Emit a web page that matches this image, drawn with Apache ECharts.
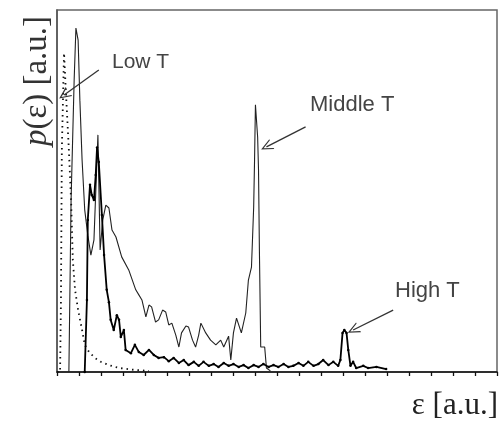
<!DOCTYPE html>
<html>
<head>
<meta charset="utf-8">
<script src="https://cdn.jsdelivr.net/npm/echarts@6/dist/echarts.min.js"></script>
<style>
  html, body { margin: 0; padding: 0; background: #fff; }
  #chart { width: 504px; height: 425px; }
</style>
</head>
<body>
<div id="chart"></div>
<script>
// Energy distributions p(ε) at three temperatures, as [ε, p] pairs in arbitrary units.
var lowT = [
  [0, 0], [0.7, 0], [0.9, 19.9], [1.1, 61.3], [1.6, 88.1], [2.0, 77.9], [2.7, 61.3],
  [3.2, 47.5], [3.6, 30.9], [4.1, 22.7], [4.8, 17.1], [5.7, 11.6], [6.3, 7.5],
  [7.3, 5.5], [8.6, 3.9], [10.0, 2.8], [11.8, 1.9], [14.1, 1.1], [17.5, 0.6], [20.9, 0.3]
];

var middleT = [
  [2.7, 0], [3.2, 47.5], [3.9, 80.7], [4.3, 95.0], [4.8, 91.7], [5.2, 75.1], [5.7, 58.6],
  [6.3, 44.8], [7.0, 37.8], [7.7, 32.3], [8.4, 36.5], [9.3, 65.5], [9.8, 33.7],
  [10.4, 42.0], [11.1, 46.1], [11.8, 45.3], [12.5, 39.2], [13.4, 37.3], [14.7, 31.8],
  [16.3, 28.2], [17.9, 22.7], [18.6, 21.3], [19.3, 19.9], [20.2, 15.2], [20.9, 18.5],
  [21.5, 18.0], [22.4, 13.8], [23.1, 14.4], [24.0, 17.1], [24.7, 16.6], [25.4, 13.0],
  [26.1, 13.5], [27.0, 10.2], [27.7, 6.9], [28.3, 10.8], [29.3, 12.7], [29.9, 12.4],
  [30.8, 8.8], [31.5, 6.9], [32.2, 10.2], [32.7, 13.5], [33.8, 10.8], [34.9, 8.8],
  [36.1, 7.5], [37.2, 8.8], [37.9, 6.9], [39.0, 9.9], [39.5, 3.3], [40.1, 10.8],
  [40.8, 14.9], [41.9, 10.8], [42.9, 16.3], [43.5, 25.4], [44.2, 29.0], [44.7, 45.6],
  [44.9, 58.6], [45.1, 73.8], [45.6, 64.9], [45.8, 55.8], [46.0, 33.7], [46.3, 6.9],
  [47.2, 6.9], [47.6, 1.1], [48.5, 0.3]
];

var highT = [
  [6.3, 0], [6.8, 19.9], [7.0, 42.0], [7.5, 51.7], [7.9, 48.9], [8.4, 47.5], [8.8, 54.4],
  [9.1, 62.0], [9.5, 58.0], [10.2, 43.4], [10.7, 32.3], [11.3, 22.7], [11.8, 19.3],
  [12.2, 14.4], [12.9, 11.6], [13.6, 15.7], [14.1, 14.4], [14.5, 9.7], [15.2, 11.6],
  [15.6, 6.1], [16.8, 5.2], [17.7, 7.5], [18.6, 5.5], [19.7, 4.7], [20.9, 6.1],
  [22.0, 4.7], [23.1, 3.9], [24.3, 4.1], [25.4, 3.0], [26.5, 3.9], [27.7, 2.5],
  [28.8, 3.3], [29.9, 1.9], [31.1, 2.8], [32.2, 1.7], [33.3, 2.8], [34.5, 1.7],
  [35.6, 2.2], [36.7, 1.4], [37.9, 2.5], [39.0, 1.7], [40.1, 2.2], [41.3, 1.4],
  [42.4, 1.9], [43.5, 1.1], [44.7, 1.9], [45.8, 1.4], [46.9, 2.2], [48.1, 1.4],
  [49.2, 1.9], [50.3, 1.4], [51.5, 2.2], [52.6, 1.4], [53.7, 1.7], [54.9, 2.5],
  [56.0, 1.7], [57.1, 2.8], [58.3, 1.7], [59.4, 2.2], [60.5, 3.3], [61.7, 1.9],
  [62.8, 2.8], [63.9, 1.7], [64.4, 3.3], [64.9, 10.8], [65.3, 11.6], [65.8, 10.8],
  [66.2, 6.1], [66.7, 1.7], [67.3, 2.8], [68.0, 1.1], [69.6, 1.7], [70.7, 1.1],
  [72.6, 1.4], [74.8, 0.8]
];

// Annotation arrows: [tail, head] in data units, with their captions.
var arrowLow = [[9.5, 83.4], [1.6, 76.5]];
var arrowMiddle = [[56.5, 67.7], [47.6, 62.2]];
var arrowHigh = [[76.4, 17.1], [67.3, 11.6]];
var captions = ['Low T', 'Middle T', 'High T'];

// Open "V" arrow head
var vHead = 'path://M0,0 L6,11 L4.6,11 L0,2.6 L-4.6,11 L-6,11 Z';

function arrow(pair) {
  return [
    { coord: pair[0], symbol: 'none' },
    { coord: pair[1], symbol: vHead, symbolSize: [11, 12] }
  ];
}

var chart = echarts.init(document.getElementById('chart'), null, { renderer: 'canvas' });

var labelFont = '"Liberation Sans", Arial, sans-serif';
var serif = '"Liberation Serif", "DejaVu Serif", "Times New Roman", serif';

chart.setOption({
  animation: false,
  backgroundColor: '#fff',
  grid: {
    left: 57, right: 7, top: 10, bottom: 53,
    show: true, borderColor: '#666', borderWidth: 1.5, backgroundColor: 'transparent'
  },
  xAxis: {
    type: 'value', min: 0, max: 100, interval: 5,
    axisLine: { show: true, onZero: false, lineStyle: { color: '#111', width: 1.5 } },
    axisTick: { show: true, inside: false, length: 4, lineStyle: { color: '#111', width: 1.3 } },
    axisLabel: { show: false },
    splitLine: { show: false }
  },
  yAxis: {
    type: 'value', min: 0, max: 100,
    axisLine: { show: true, lineStyle: { color: '#555', width: 1.5 } },
    axisTick: { show: false },
    axisLabel: { show: false },
    splitLine: { show: false }
  },
  series: [
    {
      name: captions[0], type: 'line', data: lowT, symbol: 'none',
      lineStyle: { color: '#111', width: 1.8, type: [1.5, 4] },
      markLine: {
        silent: true, animation: false,
        lineStyle: { color: '#333', width: 1.3, type: 'solid' },
        itemStyle: { color: '#333' },
        label: { show: false },
        data: [arrow(arrowLow)]
      },
      z: 3
    },
    {
      name: captions[1], type: 'line', data: middleT, symbol: 'none',
      lineStyle: { color: '#222', width: 1.1 },
      markLine: {
        silent: true, animation: false,
        lineStyle: { color: '#333', width: 1.3, type: 'solid' },
        itemStyle: { color: '#333' },
        label: { show: false },
        data: [arrow(arrowMiddle)]
      },
      z: 2
    },
    {
      name: captions[2], type: 'line', data: highT, symbol: 'circle', symbolSize: 2.5,
      itemStyle: { color: '#000' },
      lineStyle: { color: '#000', width: 1.8 },
      markLine: {
        silent: true, animation: false,
        lineStyle: { color: '#333', width: 1.3, type: 'solid' },
        itemStyle: { color: '#333' },
        label: { show: false },
        data: [arrow(arrowHigh)]
      },
      z: 4
    }
  ],
  graphic: [
    { type: 'text', left: 112, top: 52,
      style: { text: captions[0], font: '21px ' + labelFont, fill: '#444' } },
    { type: 'text', left: 310, top: 94,
      style: { text: captions[1], font: '22px ' + labelFont, fill: '#444' } },
    { type: 'text', left: 395, top: 280,
      style: { text: captions[2], font: '22px ' + labelFont, fill: '#444' } },
    {
      type: 'text', x: 37, y: 81, rotation: Math.PI / 2,
      style: {
        text: '{i|p}(ε) [a.u.]',
        font: '33px ' + serif, fill: '#333',
        align: 'center', verticalAlign: 'middle',
        rich: { i: { font: 'italic 33px ' + serif, fill: '#333' } }
      }
    },
    {
      type: 'text', x: 498, y: 406,
      style: {
        text: 'ε [a.u.]', font: '31px ' + serif, fill: '#222',
        align: 'right', verticalAlign: 'middle'
      }
    }
  ]
});
</script>
</body>
</html>
